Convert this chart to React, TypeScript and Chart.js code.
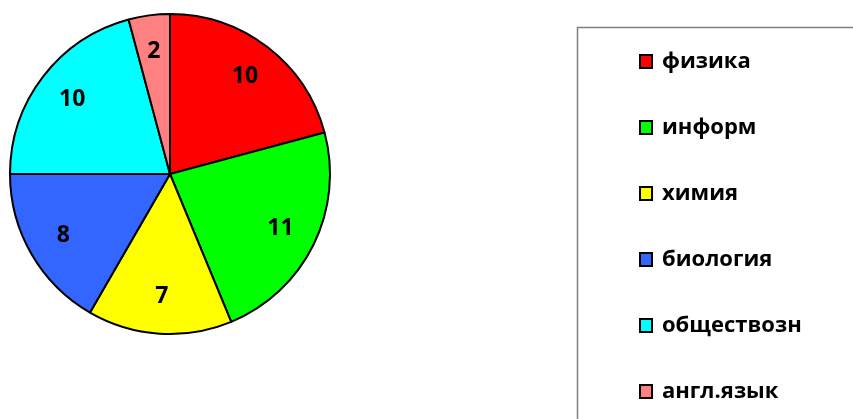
import React, { useEffect, useRef } from "react";
import { Chart, registerables } from "chart.js";

Chart.register(...registerables);

const labels = ["физика", "информ", "химия", "биология", "обществозн", "англ.язык"];
const values = [10, 11, 7, 8, 10, 2];
const colors = ["#FF0000", "#00FF00", "#FFFF00", "#3366FF", "#00FFFF", "#FF8080"];

const FONT = "'Open Sans', 'Liberation Sans', sans-serif";

const overlayPlugin = {
  id: "overlay",
  afterDatasetsDraw(chart: any) {
    const ctx = chart.ctx;
    const meta = chart.getDatasetMeta(0);
    const ds = chart.data.datasets[0];
    ctx.save();
    // value labels
    ctx.font = `bold 23px ${FONT}`;
    ctx.fillStyle = "#000";
    ctx.textAlign = "center";
    ctx.textBaseline = "middle";
    meta.data.forEach((arc: any, i: number) => {
      const p = arc.getProps(["x", "y", "startAngle", "endAngle", "outerRadius"], true);
      const mid = (p.startAngle + p.endAngle) / 2;
      const d = p.outerRadius * 0.77;
      ctx.fillText(String(ds.data[i]), p.x + Math.cos(mid) * d, p.y + Math.sin(mid) * d);
    });
    // legend box
    ctx.strokeStyle = "#808080";
    ctx.lineWidth = 1.5;
    ctx.strokeRect(577.5, 27.5, 400, 500);
    // legend items
    ctx.font = `bold 22px ${FONT}`;
    ctx.textAlign = "left";
    const labs = chart.data.labels as string[];
    labs.forEach((lab: string, i: number) => {
      const cy = 62 + i * 66;
      ctx.fillStyle = ds.backgroundColor[i];
      ctx.fillRect(640, cy - 7, 12, 13);
      ctx.strokeStyle = "#000";
      ctx.lineWidth = 2;
      ctx.strokeRect(640, cy - 7, 12, 13);
      ctx.fillStyle = "#000";
      ctx.fillText(lab, 662, cy);
    });
    ctx.restore();
  },
};

export default function App() {
  const ref = useRef<HTMLCanvasElement>(null);
  useEffect(() => {
    document.body.style.margin = "0";
    const chart = new Chart(ref.current!, {
      type: "pie",
      data: {
        labels,
        datasets: [
          {
            data: values,
            backgroundColor: colors,
            borderColor: "#000",
            borderWidth: 2,
          },
        ],
      },
      options: {
        responsive: false,
        animation: false,
        layout: { padding: { left: 9, right: 522, top: 13, bottom: 84 } },
        plugins: {
          legend: { display: false },
          tooltip: { enabled: false },
        },
      },
      plugins: [overlayPlugin],
    });
    return () => chart.destroy();
  }, []);
  return <canvas ref={ref} width={853} height={419} style={{ display: "block" }} />;
}
